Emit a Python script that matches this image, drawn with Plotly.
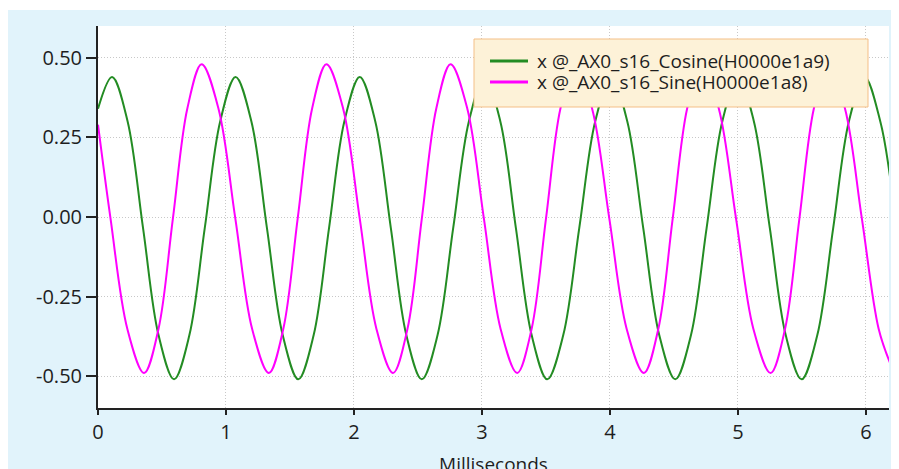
import plotly.graph_objects as go

# cosine channel (green), ms / value
cos_x = [0.00, 0.110, 0.231, 0.352, 0.473, 0.594, 0.714, 0.834, 0.955, 1.075,
         1.198, 1.320, 1.443, 1.565, 1.685, 1.805, 1.925, 2.045, 2.166, 2.288,
         2.409, 2.530, 2.653, 2.775, 2.898, 3.020, 3.143, 3.265, 3.388, 3.510,
         3.635, 3.760, 3.885, 4.010, 4.135, 4.260, 4.385, 4.510, 4.633, 4.755,
         4.878, 5.000, 5.124, 5.249, 5.373, 5.497, 5.620, 5.744, 5.867, 5.990,
         6.112, 6.190]
cos_y = [0.34, 0.44, 0.301, -0.035, -0.371, -0.51, -0.371, -0.035, 0.301, 0.44,
         0.301, -0.035, -0.371, -0.51, -0.371, -0.035, 0.301, 0.44, 0.301, -0.035,
         -0.371, -0.51, -0.371, -0.035, 0.301, 0.44, 0.301, -0.035, -0.371, -0.51,
         -0.371, -0.035, 0.301, 0.44, 0.301, -0.035, -0.371, -0.51, -0.371, -0.035,
         0.301, 0.44, 0.301, -0.035, -0.371, -0.51, -0.371, -0.035, 0.301, 0.44,
         0.30, 0.12]

# sine channel (magenta)
sin_x = [0.00, 0.098, 0.229, 0.360, 0.473, 0.585, 0.698, 0.810, 0.941, 1.073,
         1.204, 1.335, 1.448, 1.560, 1.673, 1.785, 1.915, 2.045, 2.175, 2.305,
         2.418, 2.530, 2.643, 2.755, 2.885, 3.015, 3.145, 3.275, 3.388, 3.500,
         3.613, 3.725, 3.860, 3.995, 4.130, 4.265, 4.378, 4.490, 4.603, 4.715,
         4.850, 4.985, 5.120, 5.255, 5.368, 5.480, 5.593, 5.705, 5.836, 5.968,
         6.099, 6.190]
sin_y = [0.29, -0.005, -0.351, -0.49, -0.351, -0.005, 0.341, 0.48, 0.341, -0.005,
         -0.351, -0.49, -0.351, -0.005, 0.341, 0.48, 0.341, -0.005, -0.351, -0.49,
         -0.351, -0.005, 0.341, 0.48, 0.341, -0.005, -0.351, -0.49, -0.351, -0.005,
         0.341, 0.48, 0.341, -0.005, -0.351, -0.49, -0.351, -0.005, 0.341, 0.48,
         0.341, -0.005, -0.351, -0.49, -0.351, -0.005, 0.341, 0.48, 0.341, -0.005,
         -0.351, -0.46]

series_names = ["x @_AX0_s16_Cosine(H0000e1a9)", "x @_AX0_s16_Sine(H0000e1a8)"]
series_colors = ["#238c23", "#ff00ff"]

x_ticks = [0, 1, 2, 3, 4, 5, 6]
y_ticks = [0.5, 0.25, 0.0, -0.25, -0.5]
y_ticktext = ["0.50", "0.25", "0.00", "-0.25", "-0.50"]

W, H = 899, 469
OFF = 8                            # page body margin, figure sits at (8, 8)
L, R, T, B = 98, 889, 26, 408      # plot area, screenshot pixels
FONT = "Open Sans"
INK = "#1e1e1e"


def px(x):
    return (x - L) / (R - L)


def py(y):
    return (B - y) / (B - T)


fig = go.Figure()
for xs, ys, name, col in ((cos_x, cos_y, series_names[0], series_colors[0]),
                          (sin_x, sin_y, series_names[1], series_colors[1])):
    fig.add_trace(go.Scatter(x=xs, y=ys, name=name, mode="lines",
                             line=dict(color=col, width=2, shape="spline"),
                             showlegend=False))

# light blue panel + white plot area
fig.add_shape(type="rect", xref="paper", yref="paper", layer="below",
              x0=px(0), x1=px(W + OFF), y0=py(H + OFF), y1=py(10),
              fillcolor="#e1f3fb", line_width=0)
fig.add_shape(type="rect", xref="paper", yref="paper", layer="below",
              x0=0, x1=1, y0=0, y1=1, fillcolor="white", line_width=0)

# legend box drawn by hand (winforms style)
fig.add_shape(type="rect", xref="paper", yref="paper",
              x0=px(474), x1=px(868), y0=py(107), y1=py(39),
              fillcolor="#fdf2d8", line=dict(color="#f4bf87", width=1))
for i, (name, col) in enumerate(zip(series_names, series_colors)):
    yr = py(61 + 21 * i)
    fig.add_shape(type="line", xref="paper", yref="paper",
                  x0=px(490), x1=px(528), y0=yr, y1=yr,
                  line=dict(color=col, width=3))
    fig.add_annotation(xref="paper", yref="paper", x=px(535), y=yr,
                       xanchor="left", yanchor="middle", showarrow=False,
                       text=name, font=dict(family=FONT, size=19, color=INK))

fig.update_layout(
    width=W, height=H,
    margin=dict(l=L - OFF, r=W - (R - OFF), t=T - OFF, b=H - (B - OFF)),
    paper_bgcolor="white", plot_bgcolor="rgba(0,0,0,0)",
    font=dict(family=FONT, size=20, color=INK),
    showlegend=False,
)
grid = dict(showgrid=True, gridcolor="#c8c8c8", griddash="1px,2px", gridwidth=1,
            zeroline=False, automargin=False, showline=True, linecolor="#222",
            linewidth=2, ticks="outside", tickwidth=2, tickcolor="#222")
fig.update_xaxes(range=[0, 6.18], tickvals=x_ticks, ticklen=5, **grid,
                 title=dict(text="Milliseconds", font=dict(size=19), standoff=24))
fig.update_yaxes(range=[-0.6, 0.6], tickvals=y_ticks, ticktext=y_ticktext,
                 ticklen=10, **grid)

fig.write_html("out.html")
